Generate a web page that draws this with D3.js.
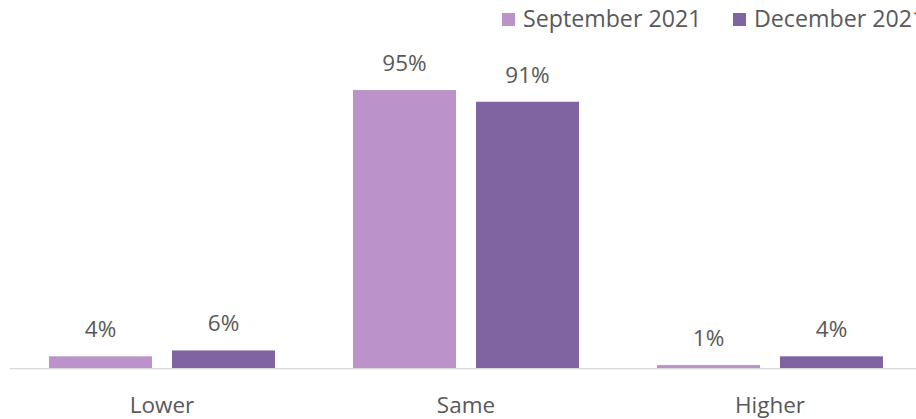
<!DOCTYPE html>
<html>
<head>
<meta charset="utf-8">
<script src="https://cdn.jsdelivr.net/npm/d3@7"></script>
<style>
  html, body { margin: 0; padding: 0; background: #ffffff; overflow: hidden; }
  text { font-family: "Open Sans", "Noto Sans", sans-serif; fill: #595959; }
</style>
</head>
<body>
<svg id="chart" width="916" height="419"></svg>
<script>
const categories = ["Lower", "Same", "Higher"];
const seriesNames = ["September 2021", "December 2021"];
const september2021 = [4, 95, 1];
const december2021 = [6, 91, 4];
const seriesColors = ["#BB93CA", "#8064A2"];

const seriesValues = [september2021, december2021];
const data = categories.map((c, i) => ({
  category: c,
  values: seriesNames.map((s, j) => ({ series: s, idx: j, value: seriesValues[j][i] }))
}));

const svg = d3.select("#chart");
const baseline = 368;

const x0 = d3.scaleBand().domain(categories).range([10, 922]).paddingInner(0).paddingOuter(0);
const x1 = d3.scaleBand().domain(seriesNames).range([39, 265]).paddingInner(20 / 123).paddingOuter(0);
const y = d3.scaleLinear().domain([0, 100]).range([baseline, baseline - 292.6]);

// axis line
svg.append("line")
  .attr("x1", 10).attr("x2", 916)
  .attr("y1", baseline + 0.6).attr("y2", baseline + 0.6)
  .attr("stroke", "#d9d9d9").attr("stroke-width", 1.3);

const groups = svg.selectAll("g.cat").data(data).join("g")
  .attr("class", "cat")
  .attr("transform", d => `translate(${x0(d.category)},0)`);

groups.selectAll("rect").data(d => d.values).join("rect")
  .attr("x", d => x1(d.series))
  .attr("width", x1.bandwidth())
  .attr("y", d => y(d.value))
  .attr("height", d => baseline - y(d.value))
  .attr("fill", d => seriesColors[d.idx]);

groups.selectAll("text.lbl").data(d => d.values).join("text")
  .attr("class", "lbl")
  .attr("x", d => x1(d.series) + x1.bandwidth() / 2)
  .attr("y", d => y(d.value) - 19)
  .attr("text-anchor", "middle")
  .style("font-size", "22.5px")
  .text(d => d.value + "%");

// category axis labels
const xAxis = d3.axisBottom(x0).tickSize(0).tickPadding(0);
const ax = svg.append("g").attr("transform", `translate(0,${baseline})`).call(xAxis);
ax.select(".domain").remove();
ax.selectAll("text")
  .attr("y", 45)
  .attr("dy", 0)
  .style("font-size", "22.5px")
  .style("font-family", '"Open Sans", "Noto Sans", sans-serif')
  .attr("fill", "#595959");

// legend
const legendX = [502, 733];
const leg = svg.selectAll("g.leg").data(seriesNames).join("g")
  .attr("class", "leg")
  .attr("transform", (d, i) => `translate(${legendX[i]},0)`);
leg.append("rect")
  .attr("x", 0).attr("y", 13)
  .attr("width", 13).attr("height", 13)
  .attr("fill", (d, i) => seriesColors[i]);
leg.append("text")
  .attr("x", 21).attr("y", 27)
  .style("font-size", "23.2px")
  .text(d => d);
</script>
</body>
</html>
